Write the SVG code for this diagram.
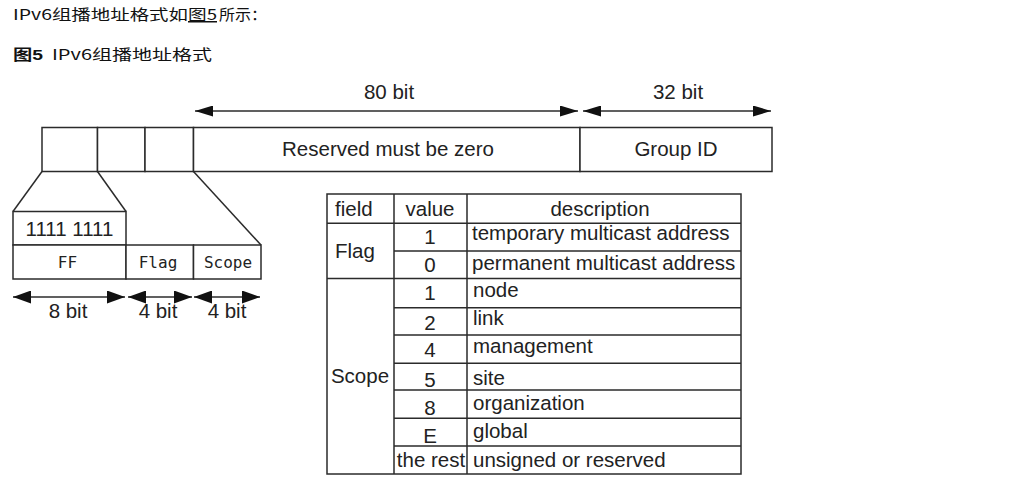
<svg xmlns="http://www.w3.org/2000/svg" width="1031" height="487" viewBox="0 0 1031 487">
<style>
.ln{stroke:#2b2b2b;stroke-width:1.5;fill:none}
.cell{stroke:#2b2b2b;stroke-width:1.5;fill:#fff}
.t{font-family:"Liberation Sans",Arial,sans-serif;font-size:20.5px;fill:#222}
.c{text-anchor:middle}
.m{font-family:"DejaVu Sans Mono",monospace;font-size:16px;fill:#222;text-anchor:middle}
.cjk{font-family:"Noto Sans CJK SC",sans-serif;font-size:15px;fill:#111}
</style>
<defs>
<marker id="ah" viewBox="0 0 18 11" refX="18" refY="5.5" markerWidth="18" markerHeight="11" markerUnits="userSpaceOnUse" orient="auto-start-reverse">
<path d="M0,0 L18,5.5 L0,11 z" fill="#111"/>
</marker>
<marker id="ah2" viewBox="0 0 18 13" refX="18" refY="6.5" markerWidth="18" markerHeight="13" markerUnits="userSpaceOnUse" orient="auto-start-reverse">
<path d="M0,0 L18,6.5 L0,13 z" fill="#111"/>
</marker>
</defs>
<rect width="1031" height="487" fill="#fff"/>

<g id="title">
<text class="cjk" x="13" y="20" textLength="175" lengthAdjust="spacingAndGlyphs">IPv6组播地址格式如</text>
<text class="cjk" x="188" y="20" textLength="29" lengthAdjust="spacingAndGlyphs" text-decoration="underline">图5</text>
<text class="cjk" x="219" y="20" textLength="48" lengthAdjust="spacingAndGlyphs">所示：</text>
<text class="cjk" x="13" y="60" textLength="30" lengthAdjust="spacingAndGlyphs" font-weight="bold" style="font-family:'Liberation Sans','Noto Sans CJK SC',sans-serif">图5</text>
<text class="cjk" x="52" y="60" textLength="160" lengthAdjust="spacingAndGlyphs">IPv6组播地址格式</text>
</g>

<g id="address-format">
<rect id="cell-ff" class="cell" x="42" y="127.5" width="55.5" height="44"/>
<rect id="cell-flag" class="cell" x="97.5" y="127.5" width="47.5" height="44"/>
<rect id="cell-scope" class="cell" x="145" y="127.5" width="48.5" height="44"/>
<g id="cell-reserved">
<rect class="cell" x="193.5" y="127.5" width="386.5" height="44"/>
<text class="t c" x="388" y="156">Reserved must be zero</text>
</g>
<g id="cell-groupid">
<rect class="cell" x="580" y="127.5" width="192" height="44"/>
<text class="t c" x="676" y="156">Group ID</text>
</g>
</g>

<g id="expanded-fields">
<g id="ff-bits">
<rect class="cell" x="13" y="211.5" width="113" height="33.5"/>
<text class="t c" x="69.5" y="236">1111 1111</text>
</g>
<g id="ff-label">
<rect class="cell" x="13" y="245" width="113" height="34"/>
<text class="m" x="67.5" y="268">FF</text>
</g>
<g id="flag-label">
<rect class="cell" x="126" y="245" width="67.5" height="34"/>
<text class="m" x="158" y="268">Flag</text>
</g>
<g id="scope-label">
<rect class="cell" x="193.5" y="245" width="67.5" height="34"/>
<text class="m" x="228" y="268">Scope</text>
</g>
</g>

<g id="connectors">
<line class="ln" x1="42" y1="171.5" x2="13" y2="211.5"/>
<line class="ln" x1="97.5" y1="171.5" x2="126" y2="211.5"/>
<line class="ln" x1="193.5" y1="171.5" x2="261" y2="245"/>
<line class="ln" x1="195" y1="111" x2="578" y2="111" marker-start="url(#ah)" marker-end="url(#ah)"/>
<line class="ln" x1="583" y1="111" x2="771" y2="111" marker-start="url(#ah)" marker-end="url(#ah)"/>
<line class="ln" x1="13" y1="297" x2="125" y2="297" marker-start="url(#ah2)" marker-end="url(#ah2)"/>
<line class="ln" x1="128" y1="297" x2="192" y2="297" marker-start="url(#ah2)" marker-end="url(#ah2)"/>
<line class="ln" x1="194" y1="297" x2="260" y2="297" marker-start="url(#ah2)" marker-end="url(#ah2)"/>
</g>

<g id="labels">
<text class="t c" x="389" y="99">80 bit</text>
<text class="t c" x="678" y="99">32 bit</text>
<text class="t c" x="68" y="318">8 bit</text>
<text class="t c" x="158" y="318">4 bit</text>
<text class="t c" x="227" y="318">4 bit</text>
</g>

<g id="table">
<rect class="cell" x="327" y="194" width="414" height="280"/>
<path class="ln" d="M394,194V474 M467,194V474 M327,223.3H741 M394,251H741 M327,278.5H741 M394,307.7H741 M394,335H741 M394,363.3H741 M394,390H741 M394,418.3H741 M394,446H741"/>
<text class="t" x="335" y="216">field</text>
<text class="t c" x="430" y="216">value</text>
<text class="t c" x="600" y="216">description</text>
<text class="t" x="335" y="258">Flag</text>
<text class="t c" x="430" y="244">1</text>
<text class="t" x="472" y="240">temporary multicast address</text>
<text class="t c" x="430" y="272">0</text>
<text class="t" x="472" y="270">permanent multicast address</text>
<text class="t c" x="360" y="383">Scope</text>
<text class="t c" x="430" y="300">1</text>
<text class="t" x="473" y="297">node</text>
<text class="t c" x="430" y="330">2</text>
<text class="t" x="473" y="325">link</text>
<text class="t c" x="430" y="357">4</text>
<text class="t" x="473" y="353">management</text>
<text class="t c" x="430" y="387">5</text>
<text class="t" x="473" y="385">site</text>
<text class="t c" x="430" y="415">8</text>
<text class="t" x="473" y="410">organization</text>
<text class="t c" x="430" y="443">E</text>
<text class="t" x="473" y="438">global</text>
<text class="t c" x="431" y="467">the rest</text>
<text class="t" x="473" y="467">unsigned or reserved</text>
</g>
</svg>
